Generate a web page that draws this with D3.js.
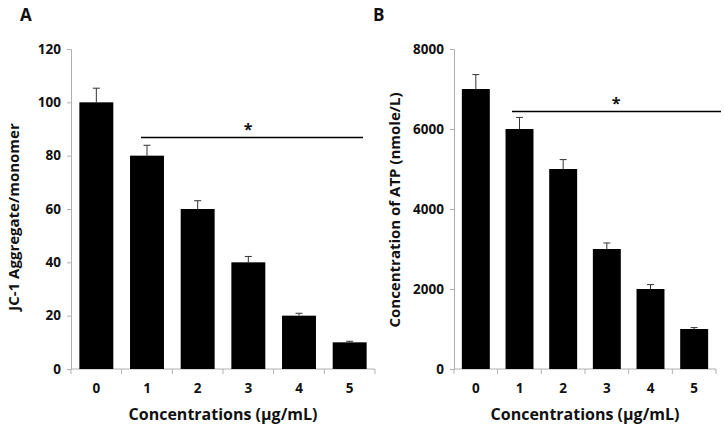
<!DOCTYPE html>
<html>
<head>
<meta charset="utf-8">
<script src="https://cdn.jsdelivr.net/npm/d3@7"></script>
<style>
  body { margin: 0; background: #fff; }
  text { font-family: "Open Sans", "Noto Sans", sans-serif; font-weight: bold; fill: #111; }
</style>
</head>
<body>
<div id="graph"></div>
<script>
const categories = ["0", "1", "2", "3", "4", "5"];

const jcValues = [100, 80, 60, 40, 20, 10];
const jcErrors = [5.3, 3.9, 3.1, 2.2, 0.9, 0.4];
const jcTicks = [0, 20, 40, 60, 80, 100, 120];

const atpValues = [7000, 6000, 5000, 3000, 2000, 1000];
const atpErrors = [360, 290, 235, 150, 110, 35];
const atpTicks = [0, 2000, 4000, 6000, 8000];

const w = 724;
const h = 428;

const svg = d3.select("#graph")
  .append("svg")
  .attr("width", w)
  .attr("height", h);

function drawPanel(opt) {
  const g = svg.append("g");

  const x = d3.scaleBand()
    .domain(categories)
    .range([opt.left, opt.right])
    .paddingInner(opt.pad)
    .paddingOuter(opt.pad / 2);

  const y = d3.scaleLinear()
    .domain([0, opt.max])
    .range([369, 49]);

  // y axis
  const yAxis = d3.axisLeft(y)
    .tickValues(opt.ticks)
    .tickFormat(d3.format("d"))
    .tickSize(4)
    .tickPadding(6);
  const ya = g.append("g")
    .attr("transform", `translate(${opt.left}, 0)`)
    .call(yAxis);
  ya.select(".domain").attr("stroke", "#b0b0b0");
  ya.selectAll(".tick line").attr("stroke", "#b0b0b0");
  ya.selectAll(".tick text").style("font-size", "13.5px");

  // x axis, ticks sit on the band edges
  const xa = g.append("g").attr("transform", "translate(0, 369)");
  xa.append("line")
    .attr("x1", opt.left).attr("x2", opt.right)
    .attr("y1", 0).attr("y2", 0)
    .attr("stroke", "#b0b0b0");
  const step = x.step();
  xa.selectAll(".bt")
    .data(d3.range(categories.length + 1))
    .enter()
    .append("line")
    .attr("x1", (i) => opt.left + i * step)
    .attr("x2", (i) => opt.left + i * step)
    .attr("y1", 0).attr("y2", 5)
    .attr("stroke", "#b0b0b0");
  xa.selectAll(".lbl")
    .data(categories)
    .enter()
    .append("text")
    .attr("x", (d) => x(d) + x.bandwidth() / 2)
    .attr("y", 24)
    .attr("text-anchor", "middle")
    .style("font-size", "13.5px")
    .text((d) => d);

  // error bars
  g.selectAll(".err")
    .data(opt.values)
    .enter()
    .append("line")
    .attr("x1", (d, i) => x(categories[i]) + x.bandwidth() / 2)
    .attr("x2", (d, i) => x(categories[i]) + x.bandwidth() / 2)
    .attr("y1", (d) => y(d))
    .attr("y2", (d, i) => y(d + opt.errors[i]))
    .attr("stroke", "#333")
    .attr("stroke-width", 1);
  g.selectAll(".cap")
    .data(opt.values)
    .enter()
    .append("line")
    .attr("x1", (d, i) => x(categories[i]) + x.bandwidth() / 2 - 3.5)
    .attr("x2", (d, i) => x(categories[i]) + x.bandwidth() / 2 + 3.5)
    .attr("y1", (d, i) => y(d + opt.errors[i]))
    .attr("y2", (d, i) => y(d + opt.errors[i]))
    .attr("stroke", "#333")
    .attr("stroke-width", 1);

  // bars
  g.selectAll(".bar")
    .data(opt.values)
    .enter()
    .append("rect")
    .attr("x", (d, i) => x(categories[i]))
    .attr("y", (d) => y(d))
    .attr("width", x.bandwidth())
    .attr("height", (d) => y(0) - y(d))
    .attr("fill", "#000");

  // significance line
  g.append("line")
    .attr("x1", opt.sigX1).attr("x2", opt.sigX2)
    .attr("y1", opt.sigY).attr("y2", opt.sigY)
    .attr("stroke", "#000")
    .attr("stroke-width", 1.5);
  g.append("text")
    .attr("x", opt.starX)
    .attr("y", opt.sigY - 3)
    .attr("text-anchor", "middle")
    .style("font-size", "16px")
    .text("*");

  // titles
  g.append("text")
    .attr("x", (opt.left + opt.right) / 2)
    .attr("y", 420)
    .attr("text-anchor", "middle")
    .style("font-size", "16px")
    .text("Concentrations (\u03bcg/mL)");
  g.append("text")
    .attr("transform", `translate(${opt.yLabelX}, ${opt.yLabelY}) rotate(-90)`)
    .attr("text-anchor", "middle")
    .style("font-size", "15px")
    .text(opt.yLabel);
  g.append("text")
    .attr("x", opt.letterX)
    .attr("y", 21)
    .style("font-size", "17px")
    .text(opt.letter);
}

drawPanel({
  left: 71, right: 375, pad: 0.33, max: 120,
  values: jcValues, errors: jcErrors, ticks: jcTicks,
  sigX1: 141, sigX2: 363, sigY: 137.5, starX: 248,
  yLabel: "JC-1 Aggregate/monomer", yLabelX: 19, yLabelY: 217,
  letter: "A", letterX: 20
});

drawPanel({
  left: 454, right: 716, pad: 0.36, max: 8000,
  values: atpValues, errors: atpErrors, ticks: atpTicks,
  sigX1: 512, sigX2: 721, sigY: 111.5, starX: 616,
  yLabel: "Concentration of ATP (nmole/L)", yLabelX: 400, yLabelY: 210,
  letter: "B", letterX: 373
});
</script>
</body>
</html>
